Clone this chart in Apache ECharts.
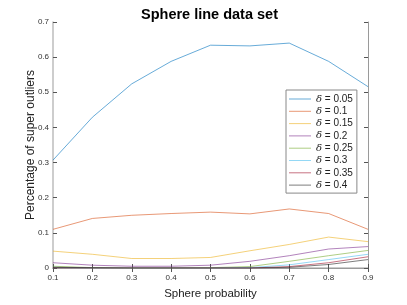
<!DOCTYPE html>
<html><head><meta charset="utf-8">
<script src="https://cdn.jsdelivr.net/npm/echarts@6/dist/echarts.min.js"></script>
<style>html,body{margin:0;padding:0;background:#fff}#c{width:407px;height:305px}</style>
</head><body><div id="c"></div>
<script>
const categories = ['0.1','0.2','0.3','0.4','0.5','0.6','0.7','0.8','0.9'];
const deltas = ['0.05','0.1','0.15','0.2','0.25','0.3','0.35','0.4'];
const d005 = [0.307,0.429,0.524,0.588,0.634,0.632,0.640,0.588,0.516];
const d010 = [0.110,0.141,0.150,0.155,0.159,0.154,0.168,0.155,0.110];
const d015 = [0.048,0.039,0.027,0.027,0.030,0.049,0.067,0.088,0.075];
const d020 = [0.015,0.008,0.005,0.005,0.008,0.019,0.035,0.054,0.061];
const d025 = [0.005,0.001,0.000,0.000,0.001,0.004,0.019,0.035,0.050];
const d030 = [0.002,0.000,0.000,0.000,0.000,0.001,0.009,0.024,0.039];
const d035 = [0.001,0.000,0.000,0.000,0.000,0.000,0.004,0.015,0.032];
const d040 = [0.002,0.001,0.000,0.000,0.000,0.000,0.002,0.010,0.024];
const seriesData = [d005,d010,d015,d020,d025,d030,d035,d040];
const colors = ['#0072BD','#D95319','#EDB120','#7E2F8E','#77AC30','#4DBEEE','#A2142F','#262626'];
const yTicks = ['0','0.1','0.2','0.3','0.4','0.5','0.6','0.7'];

const chart = echarts.init(document.getElementById('c'));
const font = 'Liberation Sans, Arial, Helvetica, sans-serif';
const axisLine = {show:true, lineStyle:{color:'#bdbdbd', width:1.5}};
const thinLine = {show:true, lineStyle:{color:'#9a9a9a', width:1}};
chart.setOption({
  animation:false,
  backgroundColor:'#fff',
  color: colors,
  title:{text:'Sphere line data set', left:136, top:2,
    textStyle:{fontFamily:font, fontSize:14.5, fontWeight:'bold', color:'#000'}},
  grid:{left:53, right:39, top:22, bottom:34},
  legend:{
    orient:'vertical', left:286, top:90, padding:[4,4,3,3],
    backgroundColor:'#fff', borderColor:'#888', borderWidth:1,
    itemWidth:22, itemHeight:1, itemGap:2.3, icon:'rect',
    itemStyle:{opacity:0.6},
    textStyle:{fontFamily:font, fontSize:10, color:'#222',
      rich:{i:{fontStyle:'italic', fontFamily:'DejaVu Serif, serif', fontSize:10, color:'#222'}}},
    formatter: n => '{i|δ} = ' + n.replace('δ = ','')
  },
  xAxis:[
    {type:'category', data:categories, boundaryGap:false,
     name:'Sphere probability', nameLocation:'middle', nameGap:20, nameMoveOverlap:false,
     nameTextStyle:{fontFamily:font, fontSize:11.5, color:'#222'},
     axisLine:axisLine,
     axisTick:{show:true, inside:true, length:4, lineStyle:{color:'#555'}},
     axisLabel:{fontFamily:font, fontSize:8, color:'#333', margin:6},
     splitLine:{show:false}},
    {type:'category', data:categories, boundaryGap:false, position:'top',
     axisLine:thinLine,
     axisTick:{show:true, inside:true, length:4, lineStyle:{color:'#555'}},
     axisLabel:{show:false}, splitLine:{show:false}}
  ],
  yAxis:[
    {type:'value', min:0, max:0.7, interval:0.1,
     name:'Percentage of super outliers', nameLocation:'middle', nameGap:16.5, nameMoveOverlap:false,
     nameTextStyle:{fontFamily:font, fontSize:12, color:'#222'},
     axisLine:axisLine,
     axisTick:{show:true, inside:true, length:4, lineStyle:{color:'#555'}},
     axisLabel:{fontFamily:font, fontSize:8, color:'#333', margin:4,
       formatter:(v)=>yTicks[Math.round(v*10)]},
     splitLine:{show:false}},
    {type:'value', min:0, max:0.7, interval:0.1, position:'right',
     axisLine:thinLine,
     axisTick:{show:true, inside:true, length:4, lineStyle:{color:'#555'}},
     axisLabel:{show:false}, splitLine:{show:false}}
  ],
  series: seriesData.map((d,i)=>({
    name:'δ = '+deltas[i], type:'line', data:d, symbol:'none',
    lineStyle:{width:0.8, opacity:0.75, color:colors[i]},
    itemStyle:{color:colors[i]}
  }))
});
</script></body></html>
